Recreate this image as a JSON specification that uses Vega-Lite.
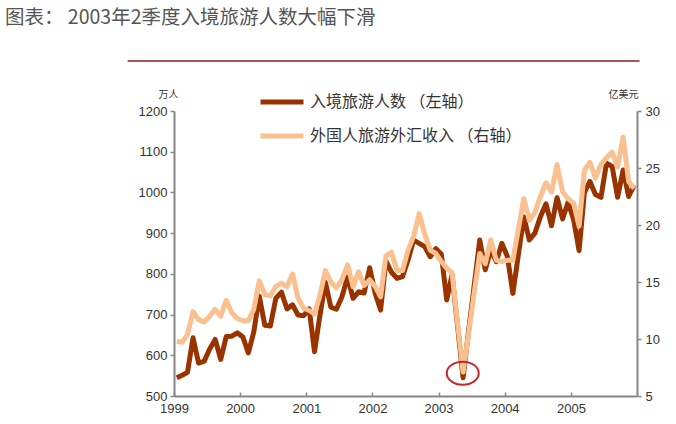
{
  "$schema": "https://vega.github.io/schema/vega-lite/v6.json",
  "width": 463,
  "height": 285,
  "autosize": {"type": "none"},
  "padding": {"left": 174, "top": 111, "right": 39, "bottom": 28},
  "background": "white",
  "title": {
    "text": "图表： 2003年2季度入境旅游人数大幅下滑",
    "anchor": "start",
    "frame": "group",
    "dx": -169,
    "dy": -32,
    "offset": 0,
    "font": "Noto Sans CJK SC",
    "fontSize": 19.5,
    "fontWeight": "normal",
    "color": "#555555"
  },
  "config": {
    "view": {"stroke": null},
    "axis": {
      "grid": false,
      "domainColor": "#868686",
      "domainWidth": 2,
      "tickColor": "#868686",
      "tickWidth": 1.5,
      "labelFont": "Liberation Sans",
      "labelFontSize": 13,
      "labelColor": "#333333",
      "titleFont": "Noto Sans CJK SC",
      "titleFontSize": 10,
      "titleFontWeight": "normal",
      "titleColor": "#333333"
    },
    "legend": {
      "labelFont": "Noto Sans CJK SC",
      "labelFontSize": 16,
      "labelColor": "#333333",
      "labelLimit": 0
    }
  },
  "datasets": {
    "m": [
      {"d": "1999-01", "a": 545, "b": 9.8},
      {"d": "1999-02", "a": 551, "b": 9.7},
      {"d": "1999-03", "a": 558, "b": 10.4},
      {"d": "1999-04", "a": 643, "b": 12.4},
      {"d": "1999-05", "a": 581, "b": 11.7},
      {"d": "1999-06", "a": 585, "b": 11.5},
      {"d": "1999-07", "a": 615, "b": 12.0},
      {"d": "1999-08", "a": 639, "b": 12.6},
      {"d": "1999-09", "a": 590, "b": 12.0},
      {"d": "1999-10", "a": 646, "b": 13.4},
      {"d": "1999-11", "a": 647, "b": 12.3},
      {"d": "1999-12", "a": 655, "b": 11.8},
      {"d": "2000-01", "a": 645, "b": 11.6},
      {"d": "2000-02", "a": 606, "b": 11.6},
      {"d": "2000-03", "a": 657, "b": 12.6},
      {"d": "2000-04", "a": 745, "b": 15.1},
      {"d": "2000-05", "a": 674, "b": 13.9},
      {"d": "2000-06", "a": 672, "b": 13.8},
      {"d": "2000-07", "a": 740, "b": 14.6},
      {"d": "2000-08", "a": 755, "b": 14.9},
      {"d": "2000-09", "a": 714, "b": 14.6},
      {"d": "2000-10", "a": 724, "b": 15.7},
      {"d": "2000-11", "a": 699, "b": 13.6},
      {"d": "2000-12", "a": 697, "b": 12.7},
      {"d": "2001-01", "a": 714, "b": 12.5},
      {"d": "2001-02", "a": 609, "b": 12.2},
      {"d": "2001-03", "a": 697, "b": 13.8},
      {"d": "2001-04", "a": 779, "b": 16.0},
      {"d": "2001-05", "a": 718, "b": 15.0},
      {"d": "2001-06", "a": 713, "b": 14.5},
      {"d": "2001-07", "a": 744, "b": 15.2},
      {"d": "2001-08", "a": 792, "b": 16.5},
      {"d": "2001-09", "a": 740, "b": 14.6},
      {"d": "2001-10", "a": 756, "b": 15.9},
      {"d": "2001-11", "a": 753, "b": 14.7},
      {"d": "2001-12", "a": 815, "b": 15.2},
      {"d": "2002-01", "a": 752, "b": 14.6},
      {"d": "2002-02", "a": 711, "b": 13.7},
      {"d": "2002-03", "a": 832, "b": 17.3},
      {"d": "2002-04", "a": 804, "b": 17.6},
      {"d": "2002-05", "a": 789, "b": 16.0},
      {"d": "2002-06", "a": 793, "b": 16.0},
      {"d": "2002-07", "a": 834, "b": 17.8},
      {"d": "2002-08", "a": 883, "b": 19.0},
      {"d": "2002-09", "a": 875, "b": 21.0},
      {"d": "2002-10", "a": 867, "b": 19.2},
      {"d": "2002-11", "a": 842, "b": 17.8},
      {"d": "2002-12", "a": 862, "b": 17.5},
      {"d": "2003-01", "a": 848, "b": 16.8},
      {"d": "2003-02", "a": 736, "b": 16.2},
      {"d": "2003-03", "a": 798, "b": 15.8},
      {"d": "2003-04", "a": 672, "b": 11.4},
      {"d": "2003-05", "a": 545, "b": 7.1},
      {"d": "2003-06", "a": 660, "b": 10.5},
      {"d": "2003-07", "a": 770, "b": 14.0},
      {"d": "2003-08", "a": 883, "b": 17.5},
      {"d": "2003-09", "a": 810, "b": 16.6},
      {"d": "2003-10", "a": 859, "b": 18.7},
      {"d": "2003-11", "a": 830, "b": 16.9},
      {"d": "2003-12", "a": 875, "b": 16.8},
      {"d": "2004-01", "a": 842, "b": 16.9},
      {"d": "2004-02", "a": 752, "b": 16.9},
      {"d": "2004-03", "a": 846, "b": 19.6},
      {"d": "2004-04", "a": 940, "b": 22.3},
      {"d": "2004-05", "a": 883, "b": 20.4},
      {"d": "2004-06", "a": 900, "b": 21.1},
      {"d": "2004-07", "a": 940, "b": 22.5},
      {"d": "2004-08", "a": 972, "b": 23.7},
      {"d": "2004-09", "a": 918, "b": 22.9},
      {"d": "2004-10", "a": 987, "b": 25.3},
      {"d": "2004-11", "a": 935, "b": 22.9},
      {"d": "2004-12", "a": 976, "b": 22.3},
      {"d": "2005-01", "a": 932, "b": 21.9},
      {"d": "2005-02", "a": 857, "b": 19.9},
      {"d": "2005-03", "a": 1000, "b": 24.8},
      {"d": "2005-04", "a": 1027, "b": 25.5},
      {"d": "2005-05", "a": 995, "b": 24.1},
      {"d": "2005-06", "a": 988, "b": 25.3},
      {"d": "2005-07", "a": 1072, "b": 25.9},
      {"d": "2005-08", "a": 1064, "b": 26.4},
      {"d": "2005-09", "a": 988, "b": 25.1},
      {"d": "2005-10", "a": 1055, "b": 27.7},
      {"d": "2005-11", "a": 990, "b": 23.8},
      {"d": "2005-12", "a": 1018, "b": 23.2}
    ],
    "note": [{"d": "2003-05", "b": 7.0}]
  },
  "layer": [
    {
      "layer": [
        {
          "data": {"name": "m"},
          "mark": {"type": "line", "strokeWidth": 5, "strokeJoin": "round"},
          "encoding": {
            "x": {
              "field": "d", "type": "temporal", "timeUnit": "yearmonth", "bandPosition": 0.5,
              "scale": {"domain": [{"year": 1999, "month": 1, "date": 1}, {"year": 2006, "month": 1, "date": 1}]},
              "axis": {
                "title": null, "format": "%Y", "formatType": "time",
                "values": [{"year": 1999, "month": 1, "date": 1}, {"year": 2000, "month": 1, "date": 1}, {"year": 2001, "month": 1, "date": 1}, {"year": 2002, "month": 1, "date": 1}, {"year": 2003, "month": 1, "date": 1}, {"year": 2004, "month": 1, "date": 1}, {"year": 2005, "month": 1, "date": 1}],
                "tickSize": -4, "labelPadding": 10, "labelAlign": "center", "labelFlush": false
              }
            },
            "y": {
              "field": "a", "type": "quantitative",
              "scale": {"domain": [500, 1200], "nice": false, "zero": false},
              "axis": {
                "values": [500, 600, 700, 800, 900, 1000, 1100, 1200], "format": "d",
                "tickSize": 4, "labelPadding": 3,
                "title": "万人", "titleAngle": 0, "titleAlign": "center", "titleBaseline": "middle",
                "titleX": -6, "titleY": -17
              }
            },
            "color": {
              "datum": "入境旅游人数 （左轴）",
              "scale": {"domain": ["入境旅游人数 （左轴）", "外国人旅游外汇收入 （右轴）"], "range": ["#993300", "#FAC090"]},
              "legend": {
                "title": null, "orient": "none", "legendX": 84, "legendY": -33,
                "direction": "vertical", "padding": 0, "symbolType": "stroke",
                "symbolSize": 1849, "symbolStrokeWidth": 5, "labelOffset": 4, "rowPadding": -20
              }
            }
          }
        },
        {
          "data": {"values": [{}]},
          "mark": {"type": "rule", "color": "#8B2323", "strokeWidth": 1.5},
          "encoding": {
            "x": {"datum": {"year": 1998, "month": 4, "date": 20}, "type": "temporal"},
            "x2": {"datum": {"year": 2006, "month": 1, "date": 15}},
            "y": {"datum": 1323, "type": "quantitative"}
          }
        }
      ]
    },
    {
      "layer": [
        {
          "data": {"name": "m"},
          "mark": {"type": "line", "strokeWidth": 5, "strokeJoin": "round"},
          "encoding": {
            "x": {"field": "d", "type": "temporal", "timeUnit": "yearmonth", "bandPosition": 0.5},
            "y": {
              "field": "b", "type": "quantitative",
              "scale": {"domain": [5, 30], "nice": false, "zero": false},
              "axis": {
                "orient": "right", "values": [5, 10, 15, 20, 25, 30],
                "tickSize": 4, "labelPadding": 4,
                "title": "亿美元", "titleAngle": 0, "titleAlign": "center", "titleBaseline": "middle",
                "titleX": -14, "titleY": -17
              }
            },
            "color": {"datum": "外国人旅游外汇收入 （右轴）"}
          }
        },
        {
          "data": {"name": "note"},
          "mark": {"type": "point", "shape": "M-1,0A1,0.72,0,1,1,1,0A1,0.72,0,1,1,-1,0Z", "size": 1024, "filled": false, "stroke": "#C8262B", "strokeWidth": 2, "opacity": 1},
          "encoding": {
            "x": {"field": "d", "type": "temporal", "timeUnit": "yearmonth", "bandPosition": 0.44},
            "y": {"field": "b", "type": "quantitative"}
          }
        }
      ]
    }
  ],
  "resolve": {"scale": {"y": "independent"}}
}
